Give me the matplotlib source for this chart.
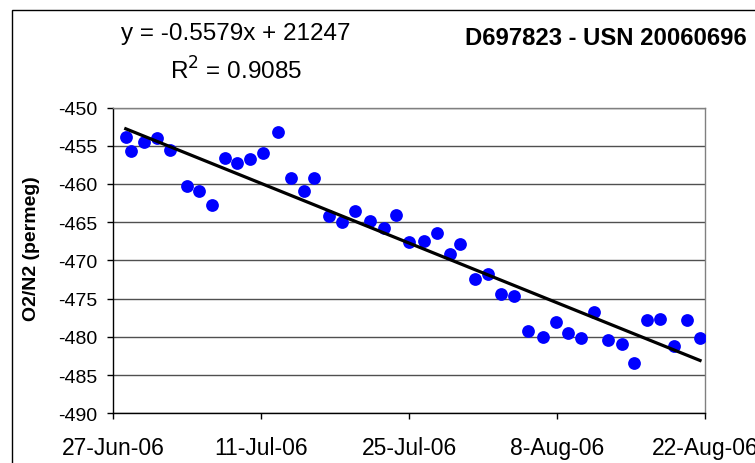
import numpy as np
import matplotlib
matplotlib.use("Agg")
import matplotlib.pyplot as plt
import matplotlib.dates as mdates
from matplotlib.patches import Rectangle
from datetime import datetime

plt.rcParams['font.family'] = ['Liberation Sans', 'DejaVu Sans']

# days after 27-Jun-06 and O2/N2 values
days = [1.18, 1.66, 2.89, 4.14, 5.39, 6.97, 8.07, 9.34, 10.57, 11.67,
        12.94, 14.17, 15.59, 16.82, 18.06, 19.03, 20.46, 21.69, 22.92, 24.34,
        25.61, 26.80, 27.94, 29.36, 30.63, 31.90, 32.78, 34.24, 35.47, 36.73,
        37.96, 39.22, 40.64, 41.88, 42.99, 44.25, 45.48, 46.78, 48.13, 49.27,
        50.50, 51.73, 53.06, 54.27, 55.53]
o2n2 = [-453.8, -455.7, -454.5, -454.0, -455.5, -460.3, -460.9, -462.7, -456.6, -457.3,
        -456.8, -456.0, -453.2, -459.2, -460.9, -459.2, -464.2, -465.0, -463.5, -464.8,
        -465.8, -464.1, -467.6, -467.4, -466.4, -469.2, -467.9, -472.4, -471.8, -474.4,
        -474.6, -479.3, -480.0, -478.0, -479.5, -480.2, -476.7, -480.4, -481.0, -483.4,
        -477.8, -477.6, -481.2, -477.8, -480.2]

tick_days = [0, 14, 28, 42, 56]
tick_labels = ['27-Jun-06', '11-Jul-06', '25-Jul-06', '8-Aug-06', '22-Aug-06']
y_ticks = list(range(-490, -449, 5))

title = 'D697823 - USN 20060696'
eq_text = 'y = -0.5579x + 21247'
r2_text = 'R$^2$ = 0.9085'

base = mdates.date2num(datetime(2006, 6, 27))
x = base + np.array(days)
y = np.array(o2n2)

fig = plt.figure(figsize=(7.55, 4.64), dpi=100)
ax = fig.add_axes([113.3 / 755, 1 - 414.3 / 464, (705 - 113.3) / 755, (414.3 - 108.5) / 464])

# outer chart border
fig.patches.append(Rectangle((11.5 / 755, -0.1), 1.2, (464 - 11) / 464 + 0.1,
                             transform=fig.transFigure, fill=False,
                             edgecolor='black', linewidth=1, clip_on=False))

for v in y_ticks:
    ax.axhline(v, color='#505050', linewidth=1, zorder=1)

ax.plot(x, y, 'o', color='#0000ff', markersize=9.2, markeredgewidth=0, zorder=3)

# linear trendline
k, b = np.polyfit(x, y, 1)
xl = np.array([x.min(), x.max()])
ax.plot(xl, k * xl + b, color='black', linewidth=2.3, zorder=4)

ax.set_xlim(base, base + 56)
ax.set_ylim(-490, -450)
ax.set_xticks([base + d for d in tick_days])
ax.set_xticklabels(tick_labels, fontsize=16.5)
ax.set_yticks(y_ticks)
ax.set_yticklabels([str(v) for v in y_ticks], fontsize=14)
ax.tick_params(axis='x', direction='out', length=4.5, width=1, pad=11.5)
ax.tick_params(axis='y', direction='out', length=4.5, width=1, pad=7)

for s in ['left', 'bottom']:
    ax.spines[s].set_color('black')
    ax.spines[s].set_linewidth(1)
for s in ['top', 'right']:
    ax.spines[s].set_color('#808080')
    ax.spines[s].set_linewidth(1)

fig.text(32 / 755, 1 - 249 / 464, 'O2/N2 (permeg)', rotation=90, fontsize=14,
         fontweight='bold', ha='center', va='center')
fig.text(236 / 755, 1 - 40 / 464, eq_text, fontsize=17.5, ha='center', va='baseline')
fig.text(236 / 755, 1 - 80 / 464, r2_text, fontsize=17.5, ha='center', va='baseline')
fig.text(465 / 755, 1 - 45 / 464, title, fontsize=17.2, fontweight='bold',
         ha='left', va='baseline')

fig.savefig('out.png', dpi=100)
